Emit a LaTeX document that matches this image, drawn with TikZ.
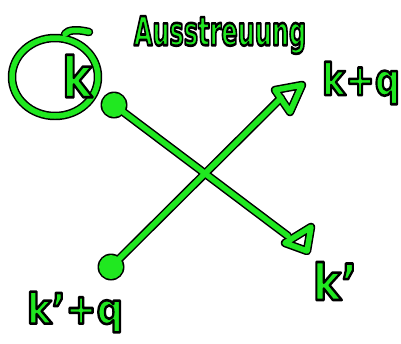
\documentclass[tikz,border=0pt]{standalone}
\usepackage{fontspec}
\setmainfont{DejaVu Sans}
\definecolor{ink}{RGB}{32,232,32}
\tikzset{
  blk/.style={draw=black, line width=8.5pt, line cap=round, line join=round},
  grn/.style={draw=ink, line width=5.5pt, line cap=round, line join=round},
  lbl/.style={inner sep=0pt, text=ink, font=\bfseries},
  dotb/.style={circle, fill=black, inner sep=0pt, minimum size=27pt},
  dotg/.style={circle, fill=ink, inner sep=0pt, minimum size=24pt},
}
\newcommand{\inkt}[1]{\special{pdf:literal direct 2 Tr 2.6 w 1 j 0 0 0 RG}#1\special{pdf:literal direct 0 Tr}}
\begin{document}
\begin{tikzpicture}[x=1pt,y=-1pt]
\useasboundingbox (0,0) rectangle (401,343);
\fill[white] (0,0) rectangle (401,343);
% positions
\coordinate (c) at (55,77);
\coordinate (e1) at (288,236);
\coordinate (e2) at (281,98);
% black pass
\node[dotb] (d1b) at (114,105) {};
\node[dotb] (d2b) at (111,267) {};
\draw[blk] (c) ellipse [x radius=43, y radius=39];
\draw[blk] (65,34) .. controls (68,30) and (76,29) .. (89,32);
\draw[blk] (d1b.center) -- (e1);
\draw[blk] (d2b.center) -- (e2);
\draw[blk] (285,243) -- (311,227) -- (307,251) -- cycle;
\draw[blk] (275,90) -- (302,85) -- (290,112) -- cycle;
% green pass
\node[dotg] (d1) at (114,105) {};
\node[dotg] (d2) at (111,267) {};
\draw[grn] (c) ellipse [x radius=43, y radius=39];
\draw[grn] (65,34) .. controls (68,30) and (76,29) .. (89,32);
\draw[grn] (d1.center) -- (e1);
\draw[grn] (d2.center) -- (e2);
\draw[grn] (285,243) -- (311,227) -- (307,251) -- cycle;
\draw[grn] (275,90) -- (302,85) -- (290,112) -- cycle;
% labels
\node[lbl, font=\fontsize{56}{60}\selectfont\bfseries, xscale=0.8] (k) at (77,76) {\inkt{k}};
\node[lbl, font=\fontsize{40}{46}\selectfont\bfseries, xscale=0.6] (title) at (220,35) {\inkt{Ausstreuung}};
\node[lbl, font=\fontsize{44}{50}\selectfont\bfseries, xscale=0.8] (kq) at (361,83) {\inkt{k+q}};
\node[lbl, font=\fontsize{50}{56}\selectfont\bfseries, xscale=0.85] (kp) at (335,281) {\inkt{k'}};
\node[lbl, font=\fontsize{42}{48}\selectfont\bfseries, xscale=0.88] (kpq) at (75,312) {\inkt{k'+q}};
\end{tikzpicture}
\end{document}
